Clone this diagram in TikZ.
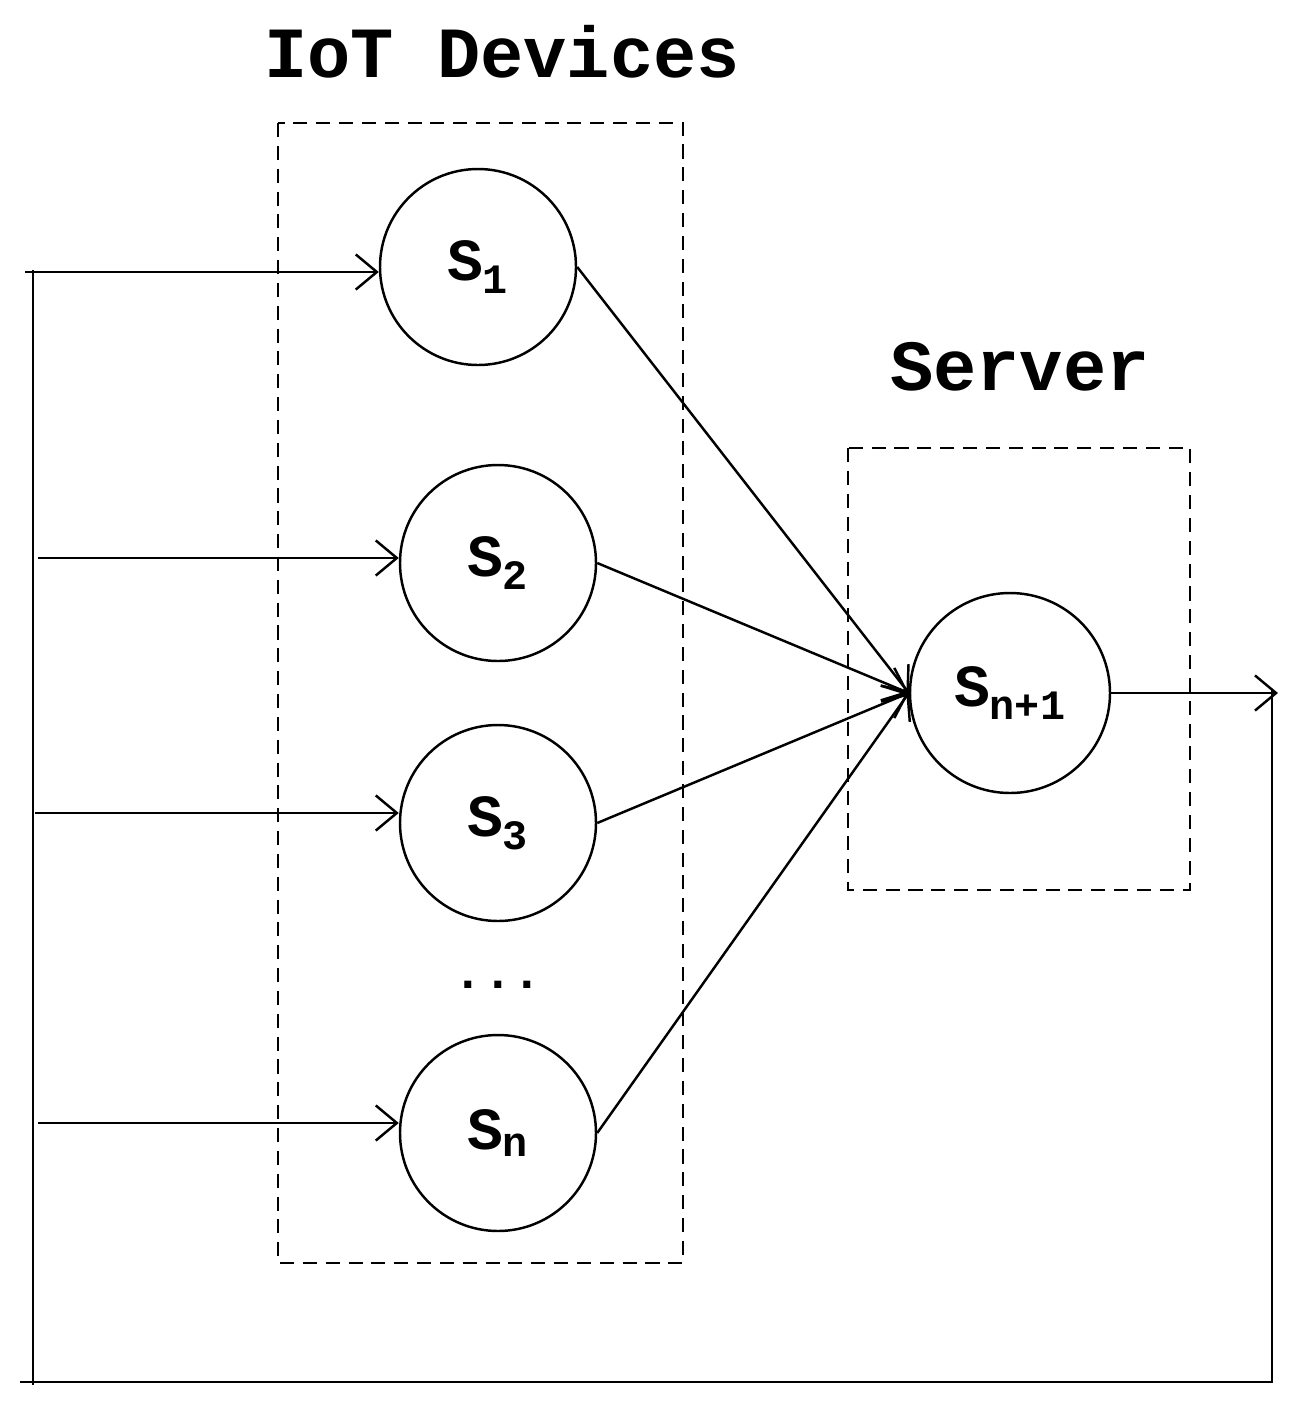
\documentclass[tikz,border=0pt]{standalone}
\usepackage{fontspec}
\setmonofont{Liberation Mono}
\usetikzlibrary{arrows.meta}
\begin{document}
\begin{tikzpicture}[x=0.02cm,y=-0.02cm,
  circ/.style={circle,draw,line width=1.4pt,minimum size=196*0.02cm,inner sep=0pt,font=\ttfamily\bfseries\fontsize{34}{38}\selectfont},
  dbox/.style={draw,dashed,line width=1.2pt,dash pattern=on 8pt off 5pt},
  ln/.style={line width=1.4pt},
  arr/.style={ln,-{Straight Barb[length=12pt,width=20pt,line width=1.4pt]}},
  ttl/.style={font=\ttfamily\bfseries\fontsize{41}{44}\selectfont}]
\useasboundingbox (0,0) rectangle (1305,1411);
\draw[dbox] (278,123) rectangle (683,1263);
\draw[dbox] (848,448) rectangle (1190,890);
\node[ttl] (t1) at (502,52) {IoT Devices};
\node[ttl] (t2) at (1020,367) {Server};
\node[circ] (s1) at (478,267) {S\textsubscript{1}};
\node[circ] (s2) at (498,563) {S\textsubscript{2}};
\node[circ] (s3) at (498,823) {S\textsubscript{3}};
\node[circ] (sn) at (498,1133) {S\textsubscript{n}};
\node[circ,minimum size=200*0.02cm] (sm) at (1010,693) {S\textsubscript{n+1}};
\node[font=\ttfamily\bfseries\fontsize{28}{30}\selectfont] (dots) at (498,985) {...};
\coordinate (a1) at (25,272);
\coordinate (a2) at (38,558);
\coordinate (a3) at (35,813);
\coordinate (a4) at (38,1123);
\coordinate (top) at (33,270);
\coordinate (bl) at (33,1385);
\coordinate (b0) at (20,1382);
\coordinate (br) at (1272,1382);
\coordinate (rt) at (1272,690);
\coordinate (out) at (1278,690);
\draw[ln] (top) -- (bl);
\draw[ln] (b0) -- (br) -- (rt);
\draw[arr] (a1) -- (a1 -| s1.west);
\draw[arr] (a2) -- (a2 -| s2.west);
\draw[arr] (a3) -- (a3 -| s3.west);
\draw[arr] (a4) -- (a4 -| sn.west);
\draw[arr] (s1.east) -- (sm.west);
\draw[arr] (s2.east) -- (sm.west);
\draw[arr] (s3.east) -- (sm.west);
\draw[arr] (sn.east) -- (sm.west);
\draw[arr] (sm.east) -- (sm.east -| out);
\end{tikzpicture}
\end{document}
